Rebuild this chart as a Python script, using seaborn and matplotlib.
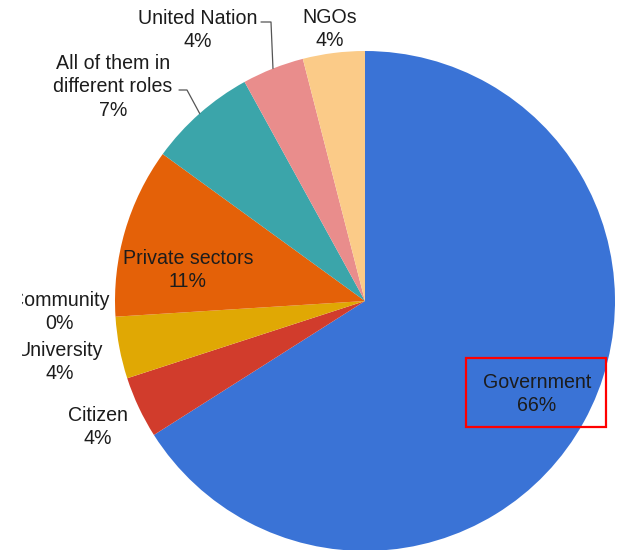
import numpy as np
import matplotlib
matplotlib.use("Agg")
import matplotlib.pyplot as plt
from matplotlib.patches import Rectangle
import seaborn as sns

# Stakeholder shares (percent), in clockwise order from 12 o'clock
categories = ["Government", "Citizen", "University", "Community", "Private sectors",
              "All of them in\ndifferent roles", "United Nation", "NGOs"]
shares = [66, 4, 4, 0, 11, 7, 4, 4]
slice_colors = ["#3A73D6", "#D13C2C", "#E0A804", "#9E9E9E", "#E46108",
                "#3BA5AA", "#E98D8C", "#FBCB88"]

sns.set_theme(style="white")
plt.rcParams["font.family"] = ["Liberation Sans", "DejaVu Sans"]

W, H = 627, 550
X0 = 22  # left edge of the drawing area
fig = plt.figure(figsize=(W / 100, H / 100), dpi=100)
ax = fig.add_axes([X0 / W, 0, 1 - X0 / W, 1])

cx, cy, r = 365, H - 301, 250
wedges, _ = ax.pie(shares, colors=slice_colors, startangle=90, counterclock=False,
                   radius=r, center=(cx, cy), frame=True,
                   wedgeprops=dict(linewidth=0))
ax.set_xlim(X0, W)
ax.set_ylim(0, H)
ax.set_aspect("equal")
ax.axis("off")

txt_color = "#1c1c1c"
fs = 14.1


def label(i, x, y, **kw):
    s = f"{categories[i]}\n{shares[i]}%"
    t = ax.text(x, H - y, s, ha="center", va="center", fontsize=fs, color=txt_color,
                linespacing=1.33, **kw)
    t.set_clip_on(True)


def edge_point(i):
    w = wedges[i]
    mid = np.deg2rad((w.theta1 + w.theta2) / 2)
    return cx + r * np.cos(mid), cy + r * np.sin(mid)


# Labels inside / around the pie
label(0, 537, 394)
label(1, 98, 427)
label(2, 60, 362)
label(3, 60, 312)
label(4, 188, 270)
label(5, 113, 87)
label(6, 198, 30)
label(7, 330, 29)

# Leader lines for the small top slices
lc = "#555555"
ex, ey = edge_point(6)
ax.plot([261, 271, ex], [H - 22, H - 22, ey], color=lc, lw=0.9)
ex, ey = edge_point(5)
ax.plot([179, 187, ex], [H - 90, H - 90, ey], color=lc, lw=0.9)

# Highlight box around the dominant slice label
ax.add_patch(Rectangle((466, H - 427), 140, 69, fill=False, edgecolor="#FF0000", lw=1.6))

fig.savefig("out.png", dpi=100, facecolor="white")
